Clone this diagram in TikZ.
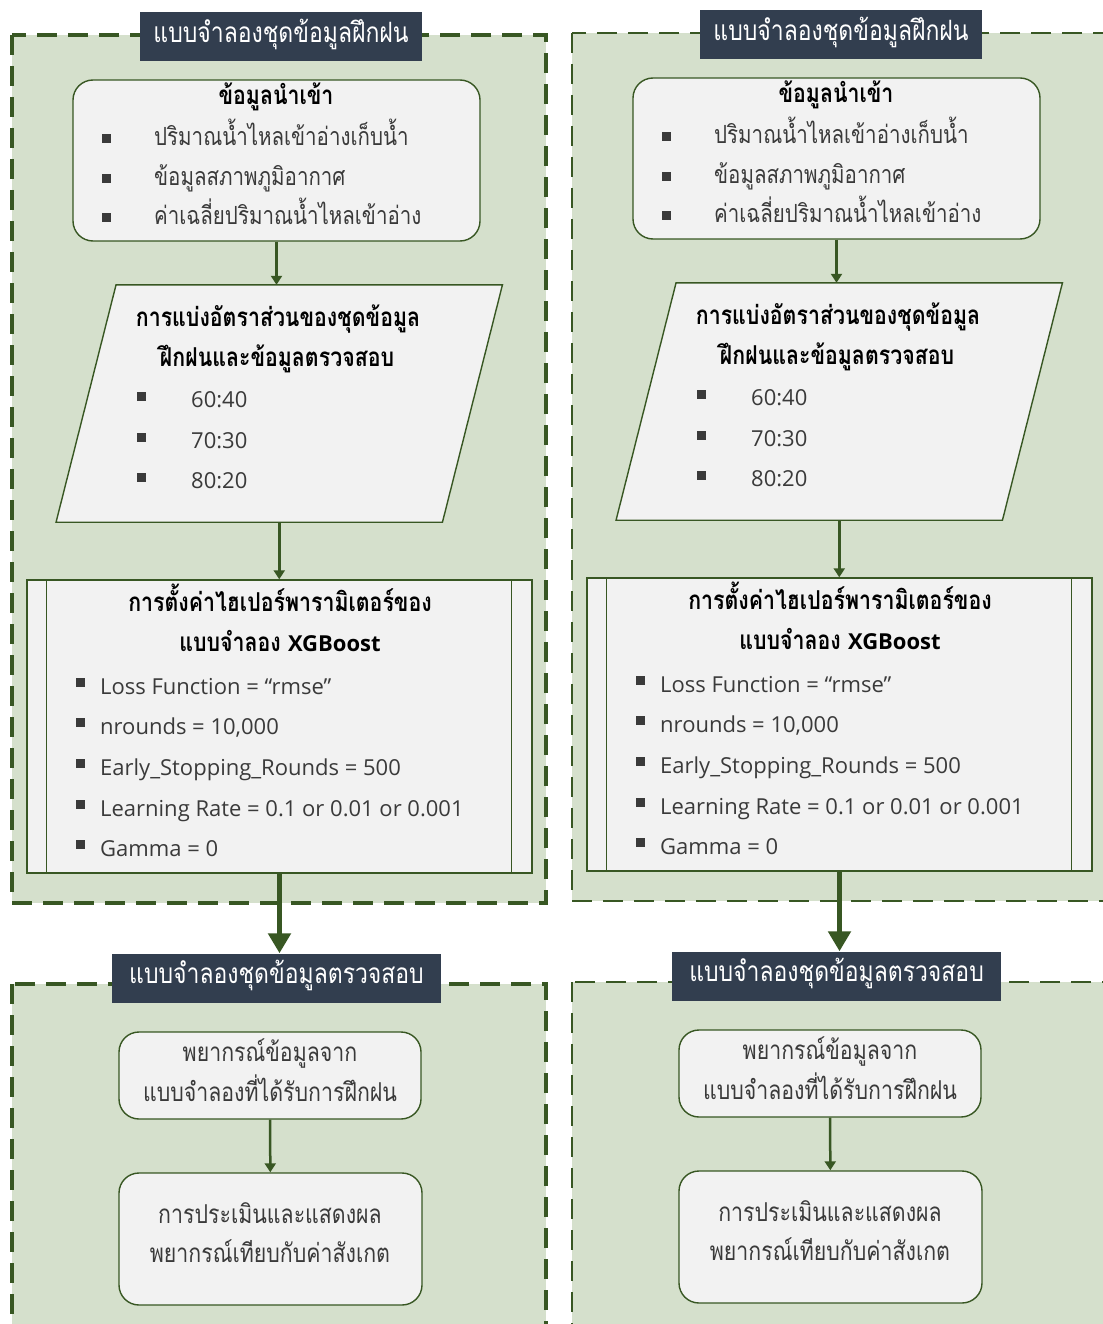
\documentclass[tikz,border=0pt]{standalone}
\usepackage{fontspec}
\setmainfont[Script=Thai, FakeStretch=0.82]{Loma}
\newfontfamily\latinfont{Open Sans}
\usetikzlibrary{arrows.meta}

\definecolor{boxgreen}{HTML}{D5E0CC}
\definecolor{edgegreen}{HTML}{385723}
\definecolor{titlenavy}{HTML}{323E4F}
\definecolor{panelgray}{HTML}{F2F2F2}
\definecolor{bodygray}{HTML}{3A3A3A}

\newcommand{\sqbul}{\rule{9pt}{9pt}}

\tikzset{
  outerbox/.style={fill=boxgreen, draw=edgegreen, dash pattern=on 20pt off 11pt},
  titlebox/.style={fill=titlenavy, text=white, minimum height=49pt, inner sep=0pt,
    text height=1ex+6pt, text depth=0pt, font=\fontsize{28}{32}\selectfont},
  panel/.style={fill=panelgray, draw=edgegreen, line width=1.4pt},
  roundpanel/.style={panel, rounded corners=20pt},
  headline/.style={anchor=mid, yshift=-3pt, inner sep=0pt, font=\bfseries\fontsize{26}{30}\selectfont},
  plain/.style={anchor=mid, yshift=-3pt, inner sep=0pt, text=bodygray, font=\fontsize{26}{30}\selectfont},
  item/.style={anchor=mid west, yshift=-3pt, inner sep=0pt, text=bodygray, font=\fontsize{25}{29}\selectfont},
  latinitem/.style={anchor=mid west, yshift=-2pt, inner sep=0pt, text=bodygray, font=\latinfont\fontsize{22}{26}\selectfont},
  flow/.style={draw=edgegreen, line width=2.5pt, -{Triangle[width=11pt,length=9pt]}},
  bigflow/.style={draw=edgegreen, line width=5.5pt, -{Triangle[width=22pt,length=20pt]}},
}

\begin{document}
\begin{tikzpicture}[x=1pt, y=-1pt]
  \useasboundingbox[fill=white] (0,0) rectangle (1102,1324);
  \foreach \col/\dx/\dy/\bw in {l/0/0/4, r/560/-2/2.5} {
    \begin{scope}[shift={(\dx,\dy)}]
      % frames
      \draw[outerbox, line width=\bw pt] (12,35) rectangle (546,903);
      \draw[outerbox, line width=\bw pt] (12,984) rectangle (546,1345);

      % training
      \node[titlebox, minimum width=282pt] (\col-train) at (281,36.5) {แบบจำลองชุดข้อมูลฝึกฝน};
      \node[roundpanel, minimum width=407pt, minimum height=161pt] (\col-in) at (276.5,160.5) {};
      \node[headline] (\col-in-h) at (276,99) {ข้อมูลนำเข้า};
      \node[item] (\col-in-a) at (102,140) {\makebox[52pt][l]{\raisebox{3pt}{\sqbul}}ปริมาณน้ำไหลเข้าอ่างเก็บน้ำ};
      \node[item] (\col-in-b) at (102,180) {\makebox[52pt][l]{\raisebox{3pt}{\sqbul}}ข้อมูลสภาพภูมิอากาศ};
      \node[item] (\col-in-c) at (102,219) {\makebox[52pt][l]{\raisebox{3pt}{\sqbul}}ค่าเฉลี่ยปริมาณน้ำไหลเข้าอ่าง};

      \node[minimum width=386pt, minimum height=237pt, inner sep=0pt] (\col-split) at (279.25,403.5) {};
      \filldraw[panel] ([xshift=30pt]\col-split.north west) -- ([xshift=30pt]\col-split.north east)
        -- ([xshift=-30pt]\col-split.south east) -- ([xshift=-30pt]\col-split.south west) -- cycle;
      \node[headline] (\col-split-h1) at (278,321) {การแบ่งอัตราส่วนของชุดข้อมูล};
      \node[headline] (\col-split-h2) at (277,361) {ฝึกฝนและข้อมูลตรวจสอบ};
      \node[latinitem] (\col-split-a) at (137,403) {\makebox[54pt][l]{\raisebox{7pt}{\sqbul}}60:40};
      \node[latinitem] (\col-split-b) at (137,444) {\makebox[54pt][l]{\raisebox{7pt}{\sqbul}}70:30};
      \node[latinitem] (\col-split-c) at (137,484) {\makebox[54pt][l]{\raisebox{7pt}{\sqbul}}80:20};

      \node[panel, minimum width=505pt, minimum height=293pt] (\col-hyp) at (279.5,726.5) {};
      \draw[edgegreen, line width=1.4pt] ([xshift=20pt]\col-hyp.north west) -- ([xshift=20pt]\col-hyp.south west)
        ([xshift=-21pt]\col-hyp.north east) -- ([xshift=-21pt]\col-hyp.south east);
      \node[headline] (\col-hyp-h1) at (280,606) {การตั้งค่าไฮเปอร์พารามิเตอร์ของ};
      \node[headline] (\col-hyp-h2) at (280,646) {แบบจำลอง {\latinfont\fontsize{22}{26}\selectfont XGBoost}};
      \node[latinitem] (\col-hyp-a) at (76,690) {\makebox[24pt][l]{\raisebox{8pt}{\sqbul}}Loss Function = “rmse”};
      \node[latinitem] (\col-hyp-b) at (76,730) {\makebox[24pt][l]{\raisebox{8pt}{\sqbul}}nrounds = 10,000};
      \node[latinitem] (\col-hyp-c) at (76,771) {\makebox[24pt][l]{\raisebox{8pt}{\sqbul}}Early\_Stopping\_Rounds = 500};
      \node[latinitem] (\col-hyp-d) at (76,812) {\makebox[24pt][l]{\raisebox{8pt}{\sqbul}}Learning Rate = 0.1 or 0.01 or 0.001};
      \node[latinitem] (\col-hyp-e) at (76,852) {\makebox[24pt][l]{\raisebox{8pt}{\sqbul}}Gamma = 0};

      % testing
      \node[titlebox, minimum width=329pt] (\col-test) at (276.5,978) {แบบจำลองชุดข้อมูลตรวจสอบ};
      \node[roundpanel, minimum width=302pt, minimum height=87pt] (\col-pred) at (270,1075.5) {};
      \node[plain] (\col-pred-1) at (270,1056) {พยากรณ์ข้อมูลจาก};
      \node[plain] (\col-pred-2) at (270,1096) {แบบจำลองที่ได้รับการฝึกฝน};
      \node[roundpanel, minimum width=303pt, minimum height=132pt] (\col-eval) at (270.5,1239) {};
      \node[plain] (\col-eval-1) at (270,1218) {การประเมินและแสดงผล};
      \node[plain] (\col-eval-2) at (270,1257) {พยากรณ์เทียบกับค่าสังเกต};

      \draw[flow] (\col-in.south) -- (\col-in.south |- \col-split.north);
      \draw[flow] (\col-split.south) -- (\col-split.south |- \col-hyp.north);
      \draw[flow] (\col-pred) -- (\col-eval);
      \draw[bigflow] (\col-hyp.south) -- (\col-hyp.south |- \col-test.north);
    \end{scope}
  }
\end{tikzpicture}
\end{document}
